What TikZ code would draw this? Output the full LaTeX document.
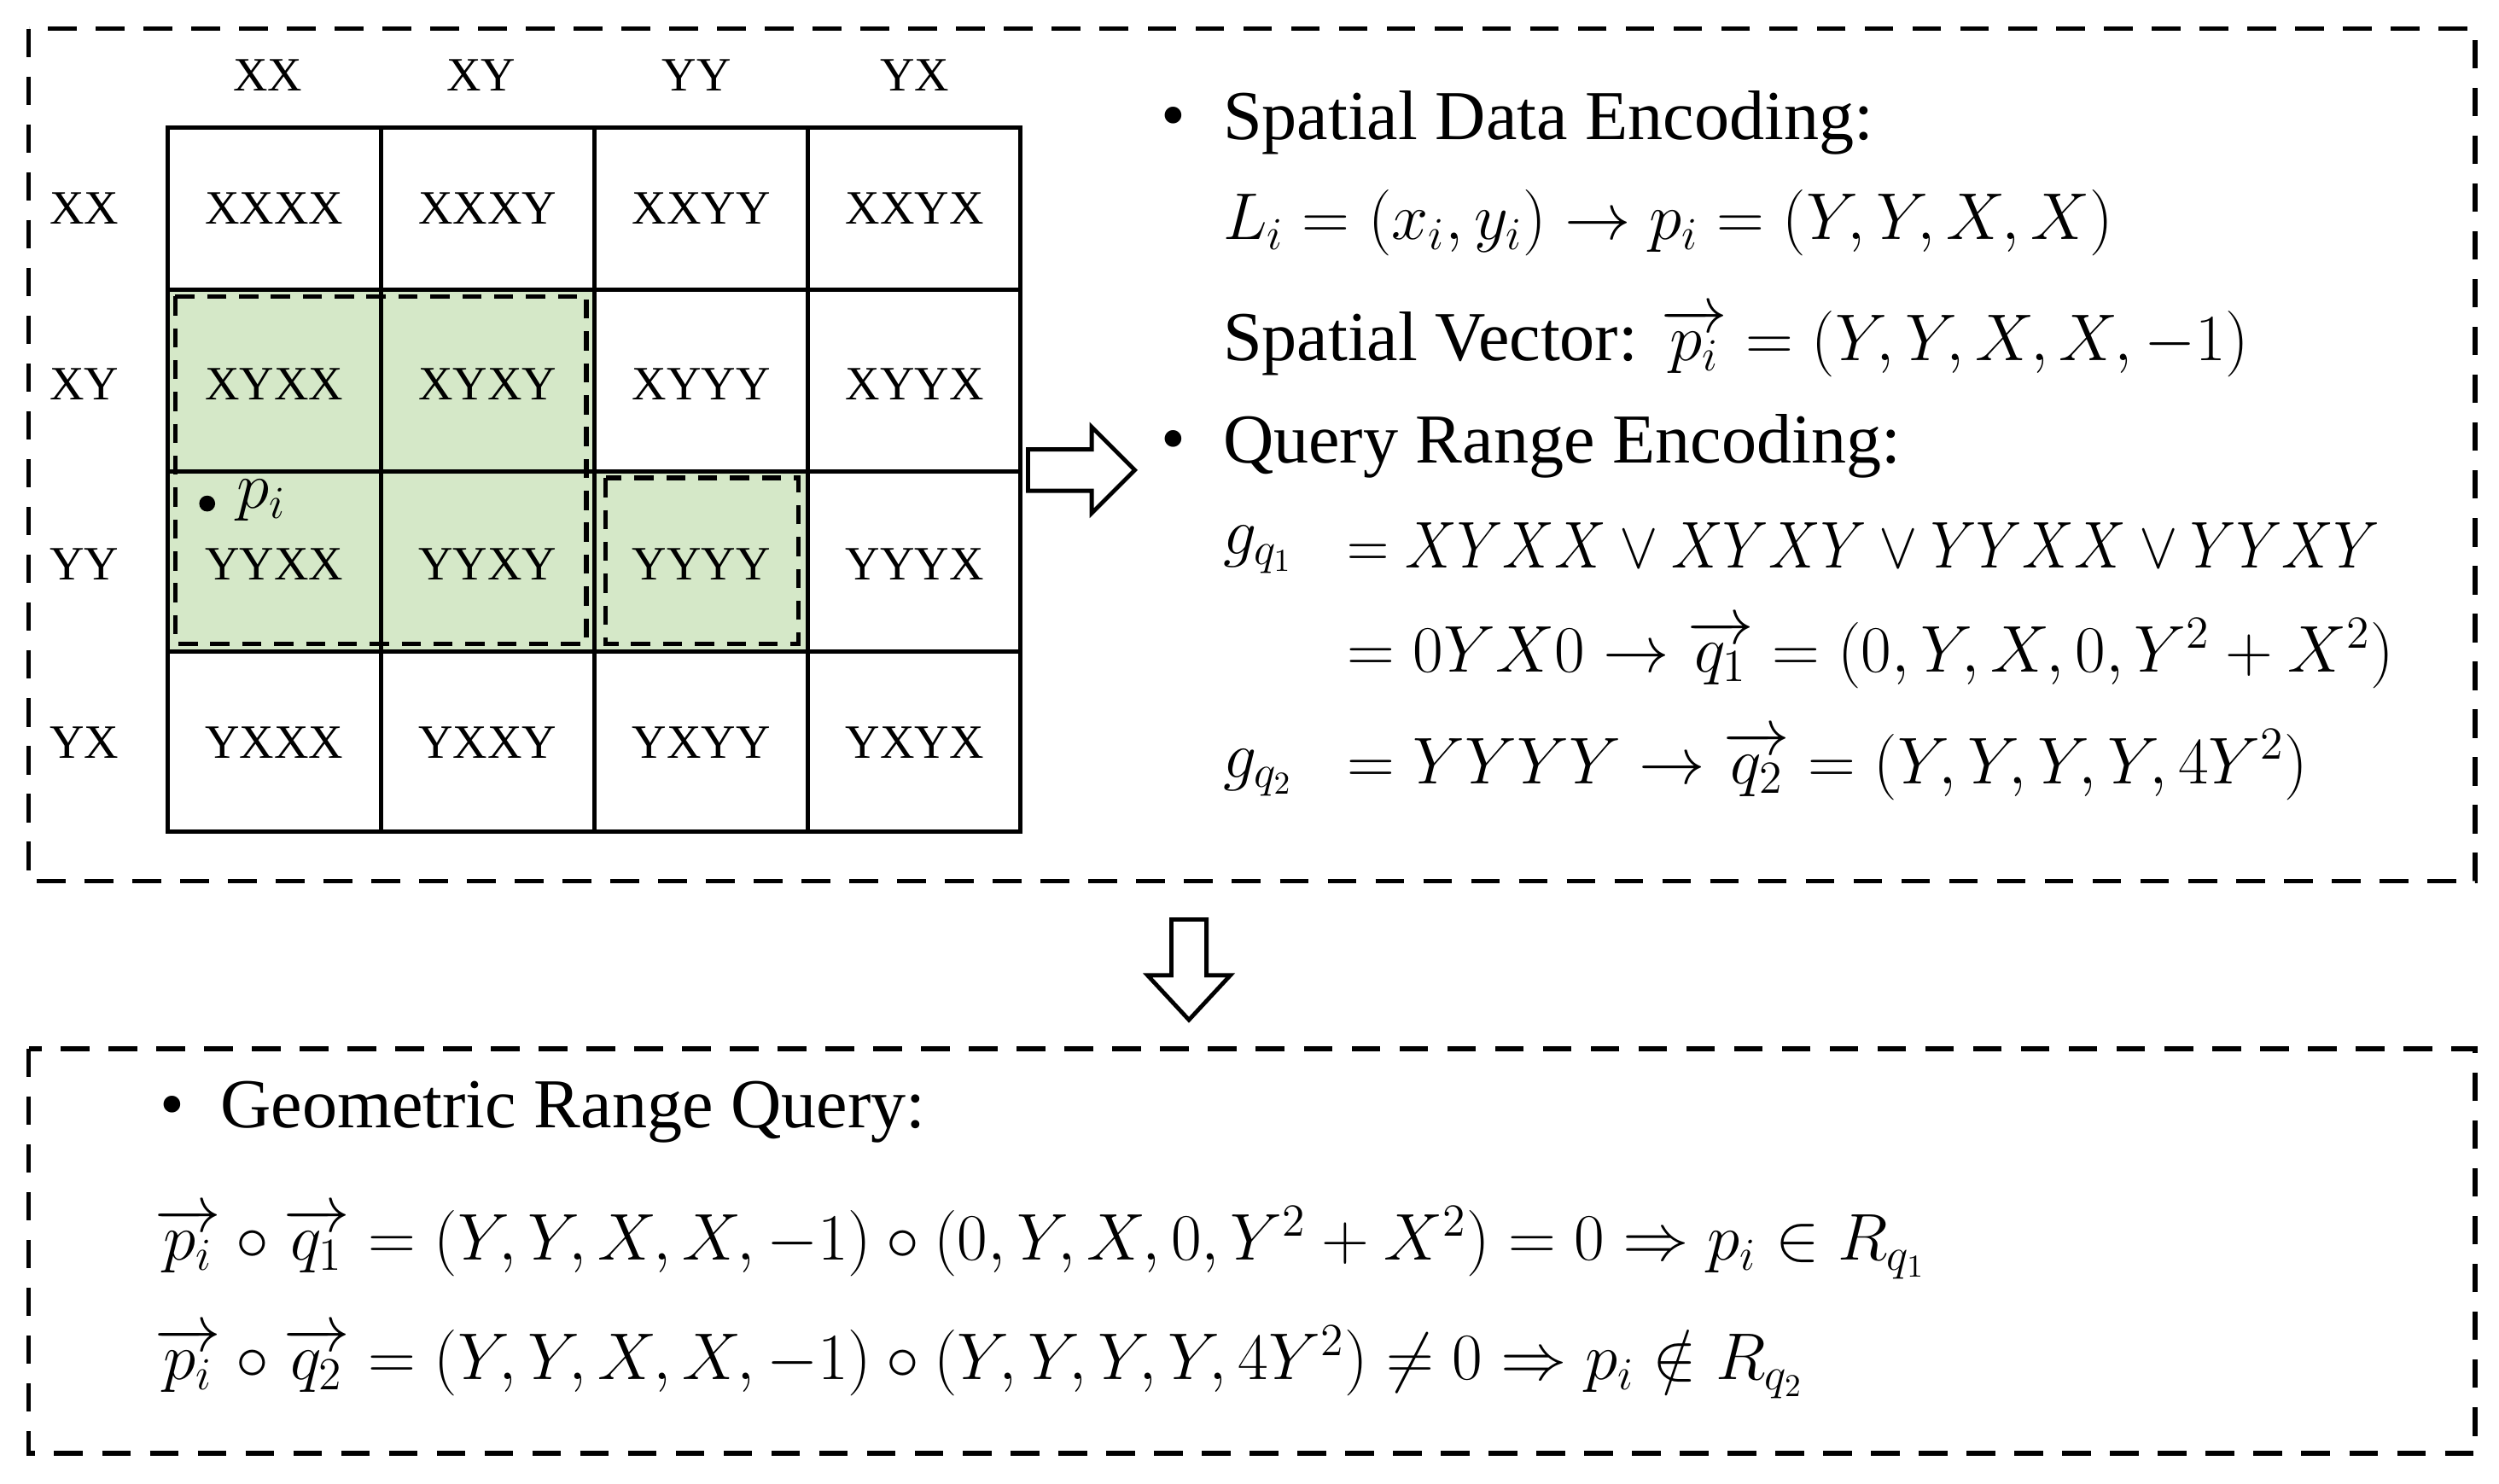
\documentclass[tikz,border=0pt]{standalone}
\usepackage{fontspec}
\setmainfont{Liberation Serif}
\usepackage{amsmath,amssymb}
\begin{document}
\begin{tikzpicture}[x=0.5pt,y=-0.5pt,
  dbox/.style={draw, line width=1.5pt, dash pattern=on 9pt off 6pt},
  gdash/.style={draw, line width=1.5pt, dash pattern=on 6pt off 4pt},
  cell/.style={font=\fontsize{15}{17}\selectfont},
  txt/.style={anchor=west, font=\fontsize{22}{26}\selectfont, inner sep=0},
  mtxt/.style={anchor=west, font=\fontsize{20}{24}\selectfont, inner sep=0},
  hollow/.style={draw, line width=1.3pt, fill=white}]
\useasboundingbox (0,0) rectangle (1568,931);
\definecolor{gfill}{RGB}{213,232,200}
% top box
\draw[dbox] (18,18) rectangle (1553,553);
% green fills
\fill[gfill] (105,182) rectangle (373,409);
\fill[gfill] (373,296) rectangle (507,409);
% grid
\draw[line width=1.3pt] (105,80) rectangle (640,522);
\foreach \x in {239,373,507} \draw[line width=1.3pt] (\x,80) -- (\x,522);
\foreach \y in {182,296,409} \draw[line width=1.3pt] (105,\y) -- (640,\y);
\draw[gdash] (110,186) rectangle (368,404);
\draw[gdash] (380,300) rectangle (501,404);
% headers
\foreach \t/\x in {XX/168,XY/302,YY/437,YX/574} \node[cell] (h\t) at (\x,47) {\t};
\foreach \t/\y in {XX/131,XY/241,YY/354,YX/466} \node[cell,anchor=west] (r\t) at (24,\y) {\t};
% cells
\foreach \r/\y in {XX/131,XY/241,YY/354,YX/466}{
  \foreach \c/\x in {XX/172,XY/306,YY/440,YX/574}{
    \node[cell] (c\r\c) at (\x,\y) {\r\c};
  }
}
\fill (130,316) circle (5);
\node[mtxt] (pi) at (148,314) {$p_i$};
% right arrow
\draw[hollow] (645,282) -- (685,282) -- (685,268) -- (712,295) -- (685,322) -- (685,308) -- (645,308) -- cycle;
% right text
\node[txt] (b1) at (728,77) {•};
\node[txt] (t1) at (767,77) {Spatial Data Encoding:};
\node[mtxt] (t2) at (767,140) {$L_i=(x_i,y_i)\rightarrow p_i=(Y,Y,X,X)$};
\node[txt] (t3) at (767,215) {Spatial Vector: \fontsize{20}{24}\selectfont$\overrightarrow{p_i}=(Y,Y,X,X,-1)$};
\node[txt] (b2) at (728,280) {•};
\node[txt] (t4) at (767,280) {Query Range Encoding:};
\node[mtxt] (t5a) at (767,345) {$g_{q_1}$};
\node[mtxt,xscale=0.88] (t5) at (845,342) {$=XYXX\vee XYXY\vee YYXX\vee YYXY$};
\node[mtxt] (t6) at (845,410) {$=0YX0\rightarrow \overrightarrow{q_1}=(0,Y,X,0,Y^2+X^2)$};
\node[mtxt] (t7a) at (767,485) {$g_{q_2}$};
\node[mtxt] (t7) at (845,480) {$=YYYY\rightarrow \overrightarrow{q_2}=(Y,Y,Y,Y,4Y^2)$};
% down arrow
\draw[hollow] (735,577) -- (757,577) -- (757,612) -- (772,612) -- (746,640) -- (720,612) -- (735,612) -- cycle;
% bottom box
\draw[dbox] (18,658) rectangle (1553,912);
\node[txt] (b3) at (100,698) {•};
\node[txt] (t8) at (138,698) {Geometric Range Query:};
\node[mtxt] (t9) at (97,780) {$\overrightarrow{p_i}\circ\overrightarrow{q_1}=(Y,Y,X,X,-1)\circ(0,Y,X,0,Y^2+X^2)=0\Rightarrow p_i\in R_{q_1}$};
\node[mtxt] (t10) at (97,855) {$\overrightarrow{p_i}\circ\overrightarrow{q_2}=(Y,Y,X,X,-1)\circ(Y,Y,Y,Y,4Y^2)\neq 0\Rightarrow p_i\notin R_{q_2}$};
\end{tikzpicture}
\end{document}
